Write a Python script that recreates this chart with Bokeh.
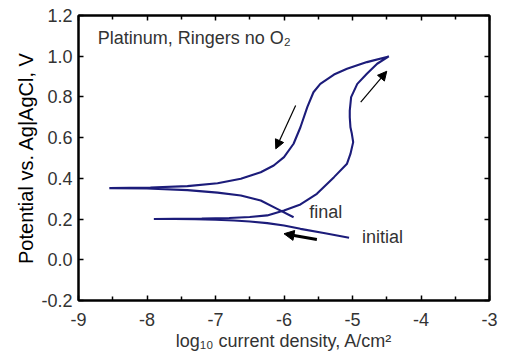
from bokeh.plotting import figure
from bokeh.models import (Range1d, LinearAxis, Label, Arrow, NormalHead,
                          FixedTicker, CustomJSTickFormatter)
from bokeh.embed import file_html
from bokeh.resources import INLINE

# Polarization scan: log10 current density (A/cm^2) vs potential (V vs Ag|AgCl)
# initial cathodic branch (from start toward low current)
init_x = [-5.05, -5.4, -5.76, -6.0, -6.245, -6.5, -6.73, -7.0, -7.3, -7.6, -7.9]
init_y = [0.108, 0.13, 0.152, 0.168, 0.18, 0.188, 0.193, 0.197, 0.199, 0.2, 0.2]
# forward anodic branch up to the vertex
fwd_x = [-7.9, -7.6, -7.2, -6.8, -6.5, -6.245, -6.0, -5.76, -5.52, -5.27, -5.08,
         -5.03, -4.99, -5.01, -5.03, -5.04, -5.04, -5.02, -4.93, -4.79, -4.64, -4.47]
fwd_y = [0.2, 0.201, 0.202, 0.205, 0.21, 0.218, 0.242, 0.272, 0.324, 0.406, 0.472,
         0.52, 0.578, 0.62, 0.651, 0.7, 0.733, 0.799, 0.864, 0.914, 0.963, 0.999]
# reverse scan back to low current
rev_x = [-4.47, -4.79, -5.08, -5.27, -5.47, -5.57, -5.66, -5.76, -5.86, -6.0, -6.15,
         -6.34, -6.63, -6.97, -7.41, -7.95, -8.55]
rev_y = [0.999, 0.971, 0.938, 0.91, 0.864, 0.823, 0.75, 0.651, 0.57, 0.504, 0.463,
         0.43, 0.398, 0.376, 0.362, 0.355, 0.352]
# final branch
fin_x = [-8.55, -8.0, -7.41, -6.97, -6.63, -6.34, -6.1, -5.86]
fin_y = [0.352, 0.35, 0.342, 0.33, 0.316, 0.291, 0.25, 0.209]

# ticks
x_ticks = [-9, -8, -7, -6, -5, -4, -3]
x_minor = [-8.5, -7.5, -6.5, -5.5, -4.5, -3.5]
y_ticks = [-0.2, 0.0, 0.2, 0.4, 0.6, 0.8, 1.0, 1.2]

# annotations
title_text = "Platinum, Ringers no O\u2082"
title_pos = (-8.72, 1.09)
final_pos = (-5.63, 0.237)
initial_pos = (-4.86, 0.11)
arrow_up = (-4.88, 0.774, -4.50, 0.926)
arrow_down = (-5.83, 0.758, -6.12, 0.545)
arrow_left = (-5.52, 0.10, -6.0, 0.128)

FONT = "Liberation Sans"
CURVE = "#1c1c7a"
TICKC = "#333333"

p = figure(width=506, height=361, output_backend="svg", toolbar_location=None,
           x_range=Range1d(-9, -3), y_range=Range1d(-0.2, 1.2),
           min_border_left=78, min_border_right=17, min_border_top=15,
           min_border_bottom=61)
p.grid.visible = False
p.outline_line_color = "black"
p.outline_line_width = 2
p.background_fill_color = "white"
p.border_fill_color = "white"

xs = init_x + fwd_x + rev_x + fin_x
ys = init_y + fwd_y + rev_y + fin_y
p.line(xs, ys, line_color=CURVE, line_width=2.1)


def style_axis(ax, kind, labels):
    if kind == "x":
        ax.ticker = FixedTicker(ticks=x_ticks, minor_ticks=x_minor)
        ax.minor_tick_in = 4
        ax.minor_tick_out = 0
        ax.minor_tick_line_color = "black"
        ax.minor_tick_line_width = 1.5
        ax.formatter = CustomJSTickFormatter(code="return tick.toFixed(0);")
    else:
        ax.ticker = FixedTicker(ticks=y_ticks)
        ax.minor_tick_line_color = None
        ax.formatter = CustomJSTickFormatter(code="return tick.toFixed(1);")
    ax.major_tick_in = 5
    ax.major_tick_out = 0
    ax.major_tick_line_width = 1.5
    ax.major_tick_line_color = "black"
    ax.axis_line_width = 2
    ax.axis_line_color = "black"
    ax.major_label_text_font = FONT
    ax.major_label_text_font_size = "18px"
    ax.major_label_text_color = TICKC
    if not labels:
        ax.major_label_text_alpha = 0
        ax.major_label_text_font_size = "1px"
        ax.major_label_standoff = 0


xb = p.xaxis[0]
style_axis(xb, "x", True)
xb.major_label_standoff = 12
xb.axis_label = "log\u2081\u2080 current density, A/cm\u00b2"
xb.axis_label_text_font = FONT
xb.axis_label_text_font_size = "18px"
xb.axis_label_text_font_style = "normal"
xb.axis_label_text_color = TICKC
xb.axis_label_standoff = 2

yl = p.yaxis[0]
style_axis(yl, "y", True)
yl.major_label_standoff = 6
yl.axis_label = "Potential vs. Ag|AgCl, V"
yl.axis_label_text_font = FONT
yl.axis_label_text_font_size = "20px"
yl.axis_label_text_font_style = "normal"
yl.axis_label_text_color = "black"
yl.axis_label_standoff = 1

xt = LinearAxis()
style_axis(xt, "x", False)
p.add_layout(xt, "above")
yr = LinearAxis()
style_axis(yr, "y", False)
p.add_layout(yr, "right")

for txt, pos in [(title_text, title_pos), ("final", final_pos),
                 ("initial", initial_pos)]:
    p.add_layout(Label(x=pos[0], y=pos[1], text=txt,
                       text_font=FONT, text_font_size="18px", text_color=TICKC,
                       text_baseline="middle"))

for (x0, y0, x1, y1), lw, sz in [(arrow_up, 1.2, 9), (arrow_down, 1.2, 9),
                                 (arrow_left, 3, 10)]:
    p.add_layout(Arrow(end=NormalHead(size=sz, fill_color="black",
                                      line_color="black"),
                       x_start=x0, y_start=y0, x_end=x1, y_end=y1,
                       line_color="black", line_width=lw))

open("out.html", "w").write(file_html(p, INLINE))
